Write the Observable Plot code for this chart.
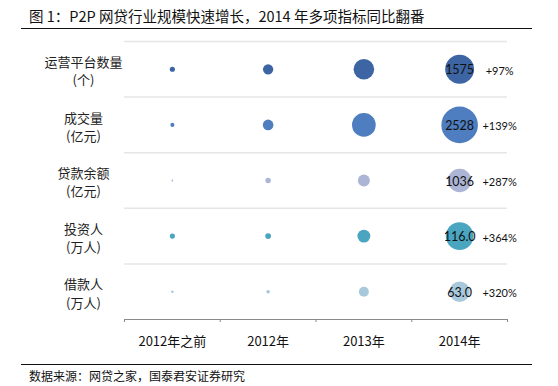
<!DOCTYPE html>
<html>
<head>
<meta charset="utf-8">
<script src="https://cdn.jsdelivr.net/npm/d3@7"></script>
<script src="https://cdn.jsdelivr.net/npm/@observablehq/plot@0.6"></script>
<style>
  html, body { margin: 0; padding: 0; background: #fff; }
  body { position: relative; width: 558px; height: 386px; overflow: hidden; font-family: "Noto Sans CJK SC", sans-serif; }
  #title { position: absolute; left: 21px; top: 0; width: 511px; height: 29px; box-sizing: border-box; border-bottom: 1px solid #111;
           font-size: 14.5px; color: #111; padding-left: 8px; line-height: 32px; white-space: nowrap; }
  #chart { position: absolute; left: 0; top: 31px; }
  #chart svg { display: block; }
  #source { position: absolute; left: 21px; top: 364px; width: 511px; height: 22px; border-top: 1px solid #111; box-sizing: border-box;
            font-size: 12px; color: #111; padding-left: 8px; line-height: 22px; white-space: nowrap; }
</style>
</head>
<body>
<div id="title">图 1：P2P 网贷行业规模快速增长，2014 年多项指标同比翻番</div>
<div id="chart"></div>
<div id="source">数据来源：网贷之家，国泰君安证券研究</div>
<script>
// Categories (x) and indicators (rows)
const periods = ["2012年之前", "2012年", "2013年", "2014年"];
const indicators = ["运营平台数量\n(个)", "成交量\n(亿元)", "贷款余额\n(亿元)", "投资人\n(万人)", "借款人\n(万人)"];
// Values per indicator, per period
const platforms = [50, 200, 800, 1575];
const volume = [31, 212, 1058, 2528];
const balance = [6, 56, 268, 1036];
const investors = [4, 5, 25, 116.0];
const borrowers = [1, 2, 15, 63.0];
const growth2014 = ["+97%", "+139%", "+287%", "+364%", "+320%"];
const labels2014 = ["1575", "2528", "1036", "116.0", "63.0"];

const series = [platforms, volume, balance, investors, borrowers];
const colors = ["#3d65a3", "#4e7dc0", "#adb5d6", "#4aa5c0", "#a8c9dc"];
const sizeWeight = [1, 1, 1, 12.5, 12.5]; // 万人 rows drawn on a larger bubble unit

const data = [];
series.forEach((vals, r) => vals.forEach((v, c) => data.push({row: r, col: c, value: v, size: v * sizeWeight[r]})));
const last = data.filter(d => d.col === periods.length - 1);
const nRows = indicators.length, nCols = periods.length;
const numFont = "Lato, 'Noto Sans', sans-serif";

const chart = Plot.plot({
  width: 558,
  height: 330,
  marginLeft: 124,
  marginRight: 51,
  marginTop: 10,
  marginBottom: 42,
  x: {type: "linear", domain: [0, nCols], axis: null},
  y: {type: "linear", domain: [0, nRows], reverse: true, axis: null},
  r: {type: "sqrt", domain: [0, 2528], range: [0, 18.3]},
  style: {fontFamily: "'Noto Sans CJK SC', sans-serif", background: "transparent"},
  marks: [
    // row separators
    Plot.ruleY(d3.range(nRows), {y: d => d, x1: 0, x2: nCols, stroke: "#e6e6e6", strokeWidth: 1.5}),
    // bottom axis line with boundary ticks
    Plot.ruleY([nRows], {y: d => d, x1: 0, x2: nCols, stroke: "#8a8a8a", strokeWidth: 1}),
    Plot.ruleX(d3.range(nCols + 1), {x: d => d, y1: nRows, y2: nRows, insetBottom: -3, stroke: "#8a8a8a", strokeWidth: 1}),
    // bubbles
    Plot.dot(data, {x: d => d.col + 0.5, y: d => d.row + 0.5, r: "size", fill: d => colors[d.row], stroke: "none"}),
    // values in 2014 bubbles
    Plot.text(last, {x: d => d.col + 0.5, y: d => d.row + 0.5, text: d => labels2014[d.row], fill: "#111", fontSize: 12.5, fontFamily: numFont, dy: 1}),
    // growth labels
    Plot.text(last, {x: d => d.col + 0.5, y: d => d.row + 0.5, text: d => growth2014[d.row], fill: "#111", fontSize: 11, fontFamily: numFont, dx: 40, dy: 2}),
    // row labels
    Plot.text(indicators, {frameAnchor: "left", y: (d, i) => i + 0.5, text: d => d, dx: -41, textAnchor: "middle", lineHeight: 1.4, fontSize: 13, fill: "#222", dy: 1}),
    // period labels
    Plot.text(periods, {x: (d, i) => i + 0.5, y: nRows, text: d => d, dy: 22, fontSize: 13, fill: "#111"})
  ]
});
document.getElementById("chart").appendChild(chart);
</script>
</body>
</html>
